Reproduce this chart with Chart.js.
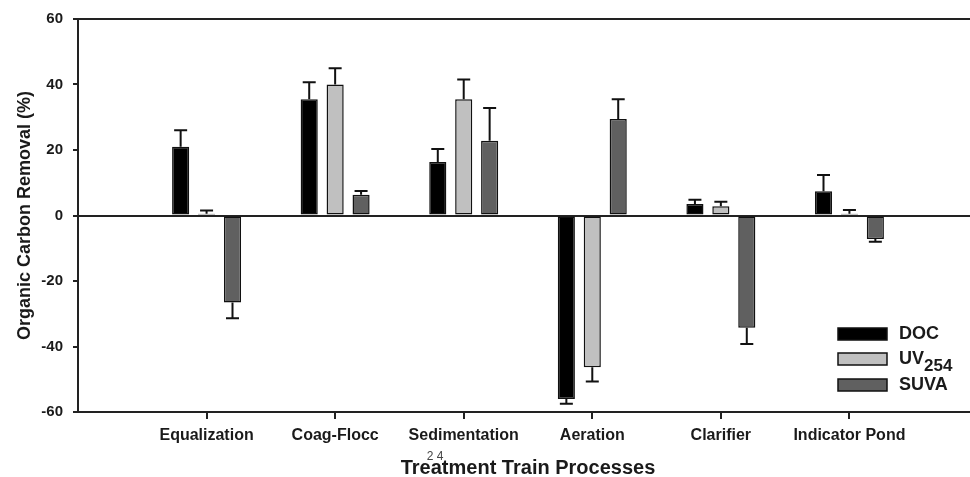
<!DOCTYPE html>
<html>
<head>
<meta charset="utf-8">
<script src="https://cdn.jsdelivr.net/npm/chart.js@4.4.1/dist/chart.umd.min.js"></script>
<style>
  html, body { margin: 0; padding: 0; background: #fff; overflow: hidden; }
  #wrap { width: 985px; height: 477px; position: relative; }
</style>
</head>
<body>
<div id="wrap"><canvas id="mychart"></canvas></div>
<script>
// data
const processes = ['Equalization', 'Coag-Flocc', 'Sedimentation', 'Aeration', 'Clarifier', 'Indicator Pond'];
const docValues  = [21, 35.5, 16.3, -56, 3.5, 7.4];
const docErrors  = [5, 5.2, 4, 1.5, 1.3, 5];
const uvValues   = [0.5, 40, 35.5, -46.3, 2.8, 0.5];
const uvErrors   = [1, 5, 6, 4.4, 1.4, 1.2];
const suvaValues = [-26.6, 6.3, 22.8, 29.5, -34.3, -7.2];
const suvaErrors = [4.8, 1.2, 10, 6, 4.9, 0.8];
const yTicks = [-60, -40, -20, 0, 20, 40, 60];

const ink = '#1a1a1a';
const family = "'Liberation Sans', Arial, sans-serif";

// blank slot at each end so the axis runs one step past the outer groups
const labels = [''].concat(processes, ['']);
const pad = arr => [null].concat(arr, [null]);

const errorBars = {
  id: 'errorBars',
  afterDatasetsDraw(chart) {
    const ctx = chart.ctx;
    const y = chart.scales.y;
    ctx.save();
    ctx.strokeStyle = '#111';
    ctx.lineWidth = 2;
    chart.data.datasets.forEach((ds, i) => {
      chart.getDatasetMeta(i).data.forEach((bar, j) => {
        const v = ds.data[j];
        const e = ds.errors[j];
        if (v == null || e == null) return;
        const end = v + (v < 0 ? -e : e);
        const y0 = y.getPixelForValue(v);
        const y1 = y.getPixelForValue(end);
        ctx.beginPath();
        ctx.moveTo(bar.x, y0);
        ctx.lineTo(bar.x, y1);
        ctx.moveTo(bar.x - 6.5, y1);
        ctx.lineTo(bar.x + 6.5, y1);
        ctx.stroke();
      });
    });
    ctx.restore();
  }
};

const boxLegend = {
  id: 'boxLegend',
  afterDraw(chart) {
    const ctx = chart.ctx;
    const rows = [
      { fill: '#000000', y: 334, text: 'DOC' },
      { fill: '#c0c0c0', y: 359, text: 'UV', sub: '254' },
      { fill: '#606060', y: 385, text: 'SUVA' }
    ];
    ctx.save();
    rows.forEach(r => {
      ctx.fillStyle = r.fill;
      ctx.strokeStyle = '#111';
      ctx.lineWidth = 1.5;
      ctx.fillRect(838, r.y - 6, 49, 12);
      ctx.strokeRect(838, r.y - 6, 49, 12);
      ctx.fillStyle = ink;
      ctx.textBaseline = 'middle';
      ctx.textAlign = 'left';
      ctx.font = 'bold 18px ' + family;
      ctx.fillText(r.text, 899, r.y);
      if (r.sub) {
        const w = ctx.measureText(r.text).width;
        ctx.font = 'bold 17px ' + family;
        ctx.fillText(r.sub, 899 + w, r.y + 7);
      }
    });
    // stray page number under the axis
    ctx.font = '12px ' + family;
    ctx.fillStyle = '#444';
    ctx.textAlign = 'center';
    ctx.fillText('2 4', 435, 457);
    ctx.restore();
  }
};

new Chart(document.getElementById('mychart'), {
  type: 'bar',
  data: {
    labels: labels,
    datasets: [
      { label: 'DOC', data: pad(docValues), errors: pad(docErrors), backgroundColor: '#000000' },
      { label: 'UV254', data: pad(uvValues), errors: pad(uvErrors), backgroundColor: '#c0c0c0' },
      { label: 'SUVA', data: pad(suvaValues), errors: pad(suvaErrors), backgroundColor: '#606060' }
    ].map(d => Object.assign(d, {
      borderColor: '#111',
      borderWidth: 1.5,
      borderSkipped: false,
      categoryPercentage: 0.605,
      barPercentage: 0.66
    }))
  },
  options: {
    responsive: true,
    maintainAspectRatio: false,
    animation: false,
    layout: { padding: { left: 0, top: 17, right: 4, bottom: 0 } },
    plugins: {
      legend: { display: false },
      tooltip: { enabled: false }
    },
    scales: {
      x: {
        offset: false,
        afterFit: s => { s.height = 65; },
        border: { display: true, color: '#222', width: 2 },
        grid: {
          offset: false,
          drawOnChartArea: false,
          drawTicks: true,
          tickLength: 7,
          lineWidth: 2,
          tickColor: c => (c.tick && c.tick.label) ? '#222' : 'rgba(0,0,0,0)'
        },
        ticks: {
          autoSkip: false,
          maxRotation: 0,
          padding: 7,
          color: ink,
          font: { family: family, size: 16, weight: 'bold' }
        },
        title: {
          display: true,
          text: 'Treatment Train Processes',
          color: ink,
          font: { family: family, size: 20, weight: 'bold', lineHeight: 1 },
          padding: { top: 0, bottom: -1 }
        }
      },
      y: {
        min: -60,
        max: 60,
        afterFit: s => { s.width = 78; },
        afterBuildTicks: s => { s.ticks = yTicks.map(v => ({ value: v })); },
        border: { display: true, color: '#222', width: 2 },
        grid: {
          drawTicks: true,
          tickLength: 5,
          tickColor: '#222',
          lineWidth: 2,
          color: c => (c.tick && (c.tick.value === 0 || c.tick.value === 60)) ? '#222' : 'rgba(0,0,0,0)'
        },
        ticks: {
          padding: 10,
          color: ink,
          font: { family: family, size: 15, weight: 'bold' }
        },
        title: {
          display: true,
          text: 'Organic Carbon Removal (%)',
          color: ink,
          font: { family: family, size: 18, weight: 'bold' },
          padding: { top: 14, bottom: 0 }
        }
      }
    }
  },
  plugins: [errorBars, boxLegend]
});
</script>
</body>
</html>
